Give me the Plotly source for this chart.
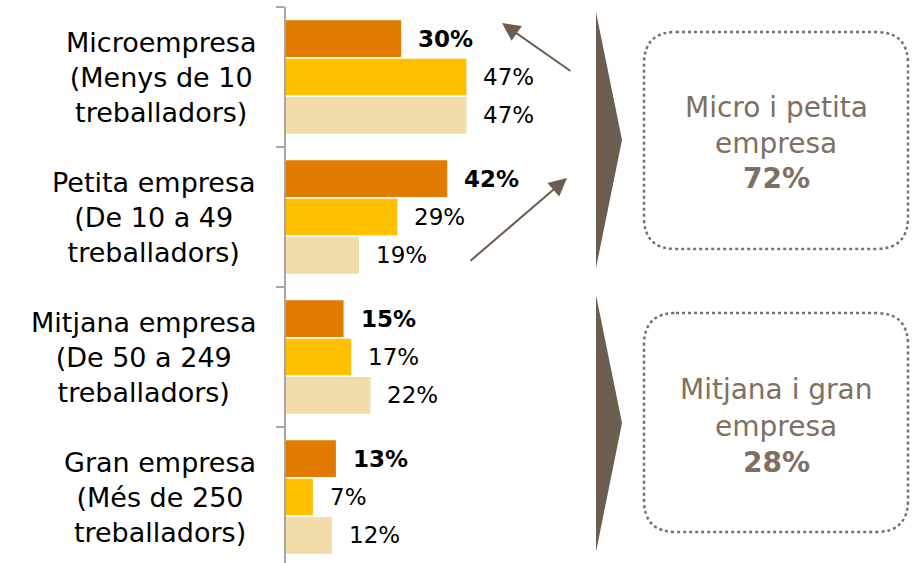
import plotly.graph_objects as go

# ---------------- data ----------------
categories = [
    "Microempresa<br>(Menys de 10<br>treballadors)",
    "Petita empresa<br>(De 10 a 49<br>treballadors)",
    "Mitjana empresa<br>(De 50 a 249<br>treballadors)",
    "Gran empresa<br>(Més de 250<br>treballadors)",
]
series_a = [30, 42, 15, 13]   # bold series
series_b = [47, 29, 17, 7]
series_c = [47, 19, 22, 12]
series_colors = ["#E07B00", "#FFC000", "#F2DCA9"]
group_texts = [
    ["Micro i petita", "empresa", "<b>72%</b>"],
    ["Mitjana i gran", "empresa", "<b>28%</b>"],
]

FONT = "Century Gothic, URW Gothic, DejaVu Sans, sans-serif"
W, H = 913, 563
L, T, B, R = 286, 7, 0, 0
PW, PH = W - L - R, H - T - B
PX_PER_UNIT = 3.84
BAND = 140.0

def px(x):
    return (x - L) / PW

def py(y):
    return (H - B - y) / PH

fig = go.Figure()
n = len(categories)
ys = list(range(n))
all_series = [series_a, series_b, series_c]
for k, (vals, col) in enumerate(zip(all_series, series_colors)):
    fig.add_trace(go.Bar(
        y=ys, x=vals, orientation="h",
        marker=dict(color=col, line=dict(width=0)),
        hoverinfo="skip", showlegend=False,
    ))

bargap = 0.18
slot = (1 - bargap) / 3
annotations = []
for k, vals in enumerate(all_series):
    for i, v in enumerate(vals):
        txt = f"<b>{v}%</b>" if k == 0 else f"{v}%"
        annotations.append(dict(
            x=v, y=i + (k - 1) * slot, xref="x", yref="y",
            text=txt, showarrow=False, xanchor="left", yanchor="middle",
            xshift=15, font=dict(family=FONT, size=23, color="#000000"),
        ))

# category labels (centered block, right edge near the axis)
for i, c in enumerate(categories):
    annotations.append(dict(
        x=px(258), y=i, xref="paper", yref="y", text=c, showarrow=False,
        xanchor="right", yanchor="middle", align="center",
        font=dict(family=FONT, size=27, color="#000000"),
    ))

# group boxes text
box_centers = [(776, 143), (776, 426)]
for (cx, cy), lines in zip(box_centers, group_texts):
    for j, t in enumerate(lines):
        annotations.append(dict(
            x=px(cx), y=py(cy + (j - 1) * 36), xref="paper", yref="paper",
            text=t, showarrow=False, xanchor="center", yanchor="middle",
            font=dict(family=FONT, size=28, color="#7F6F62"),
        ))

# arrows
arrow_col = "#6B5D50"
for (hx, hy, tx, ty) in [(502, 23, 572, 72), (567, 178, 469, 262)]:
    annotations.append(dict(
        x=px(hx), y=py(hy), xref="paper", yref="paper",
        ax=tx - hx, ay=ty - hy, axref="pixel", ayref="pixel",
        showarrow=True, arrowhead=2, arrowsize=1.8, arrowwidth=2,
        arrowcolor=arrow_col, text="", standoff=0,
    ))

shapes = []
# chevrons
for (top, tip, bot) in [(12, 140, 268), (295, 423, 552)]:
    path = (f"M {px(596)} {py(top)} L {px(622)} {py(tip)} "
            f"L {px(596)} {py(bot)} Z")
    shapes.append(dict(type="path", xref="paper", yref="paper", path=path,
                       fillcolor="#6B5D50", line=dict(width=0)))

# rounded dotted boxes
def rounded(x0, y0, x1, y1, r):
    pts = [
        f"M {px(x0 + r)} {py(y0)}",
        f"L {px(x1 - r)} {py(y0)}",
        f"Q {px(x1)} {py(y0)} {px(x1)} {py(y0 + r)}",
        f"L {px(x1)} {py(y1 - r)}",
        f"Q {px(x1)} {py(y1)} {px(x1 - r)} {py(y1)}",
        f"L {px(x0 + r)} {py(y1)}",
        f"Q {px(x0)} {py(y1)} {px(x0)} {py(y1 - r)}",
        f"L {px(x0)} {py(y0 + r)}",
        f"Q {px(x0)} {py(y0)} {px(x0 + r)} {py(y0)}",
        "Z",
    ]
    return " ".join(pts)

for (x0, y0, x1, y1) in [(644, 32, 908, 249), (644, 313, 908, 532)]:
    shapes.append(dict(type="path", xref="paper", yref="paper",
                       path=rounded(x0, y0, x1, y1, 32),
                       line=dict(color="#7F6F62", width=2.5, dash="dot"),
                       fillcolor="rgba(0,0,0,0)"))

y_bottom = -0.5 + PH / BAND
boundaries = [i - 0.5 for i in range(n + 1)]
fig.update_layout(
    width=W, height=H,
    margin=dict(l=L, r=R, t=T, b=B, pad=0),
    paper_bgcolor="white", plot_bgcolor="white",
    barmode="group", bargap=bargap, bargroupgap=0.04,
    xaxis=dict(range=[0, PW / PX_PER_UNIT], visible=False, showgrid=False,
               zeroline=False, fixedrange=True),
    yaxis=dict(range=[y_bottom, -0.5], showgrid=False, zeroline=False,
               showline=True, linecolor="#A6A6A6", linewidth=2,
               ticks="outside", ticklen=8, tickcolor="#A6A6A6", tickwidth=2,
               tickmode="array", tickvals=boundaries,
               ticktext=[""] * len(boundaries), showticklabels=False,
               fixedrange=True, type="linear"),
    annotations=annotations, shapes=shapes, showlegend=False,
)

fig.write_html("out.html", config={"displayModeBar": False})
